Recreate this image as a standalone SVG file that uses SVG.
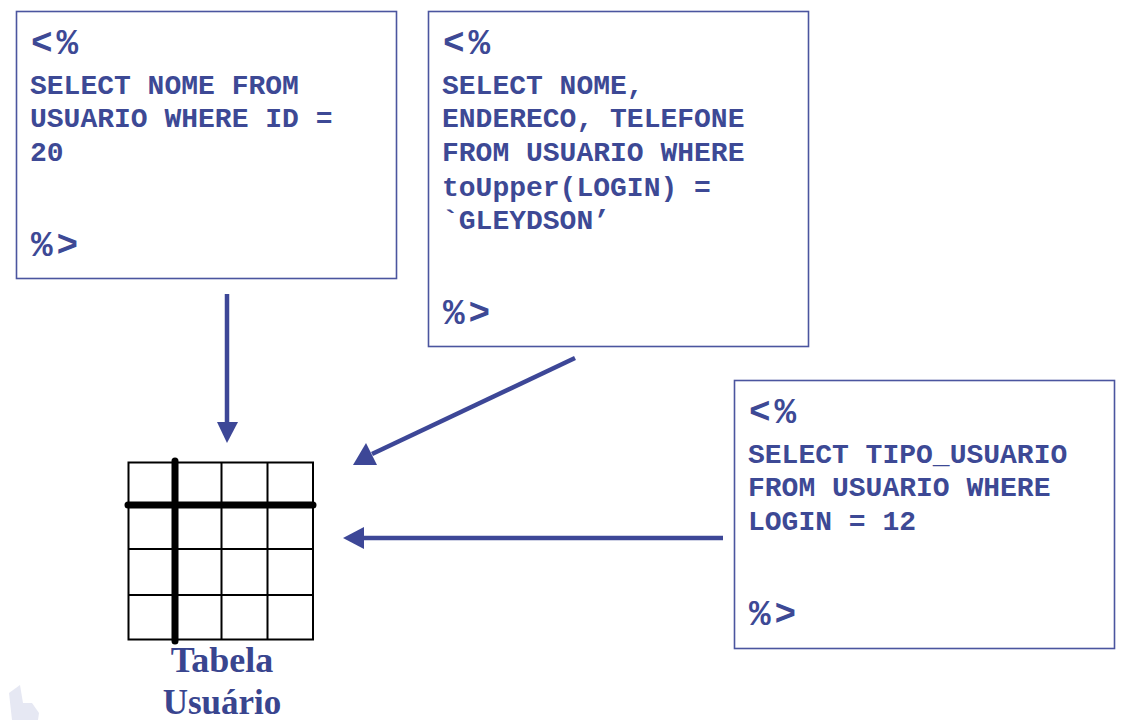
<svg xmlns="http://www.w3.org/2000/svg" width="1140" height="720" viewBox="0 0 1140 720">
<style>
.box{fill:#fff;stroke:#4b559f;stroke-width:1.6}
.code{font-family:"Liberation Mono","Courier New",monospace;font-weight:700;font-size:28px;fill:#3d4995}
.tag{font-family:"Liberation Mono","Courier New",monospace;font-weight:700;font-size:36px;fill:#3d4995;letter-spacing:4px}
.cap{font-family:"Liberation Serif","Times New Roman",serif;font-weight:700;font-size:36px;fill:#39458f;text-anchor:middle}
.conn{stroke:#3d4797;stroke-width:4.500;fill:none}
.head{fill:#3d4797}
.thin{stroke:#000;stroke-width:2;fill:none}
.thick{stroke:#000;stroke-width:7;stroke-linecap:round}
</style>
<rect width="1140" height="720" fill="#fff"/>
<g id="logo"><path d="M9 693L20 685L23 703L32 703L39 713L38 720L12 720Z" fill="#e6e8f3"/></g>
<g id="query1">
<rect class="box" x="16.500" y="11.500" width="380" height="267"/>
<text class="tag" x="31" y="54">&lt;%</text>
<text class="code" x="30" y="94">SELECT NOME FROM</text>
<text class="code" x="30" y="127">USUARIO WHERE ID =</text>
<text class="code" x="30" y="161">20</text>
<text class="tag" x="31" y="256">%&gt;</text>
</g>
<g id="query2">
<rect class="box" x="428.500" y="11.500" width="380" height="335"/>
<text class="tag" x="443" y="54">&lt;%</text>
<text class="code" x="442" y="94">SELECT NOME,</text>
<text class="code" x="442" y="127">ENDERECO, TELEFONE</text>
<text class="code" x="442" y="161">FROM USUARIO WHERE</text>
<text class="code" x="442" y="196">toUpper(LOGIN) =</text>
<text class="code" x="442" y="229">`GLEYDSON’</text>
<text class="tag" x="443" y="324">%&gt;</text>
</g>
<g id="query3">
<rect class="box" x="734.500" y="380.500" width="380" height="268"/>
<text class="tag" x="749" y="423">&lt;%</text>
<text class="code" x="748" y="463">SELECT TIPO_USUARIO</text>
<text class="code" x="748" y="496">FROM USUARIO WHERE</text>
<text class="code" x="748" y="530">LOGIN = 12</text>
<text class="tag" x="749" y="625">%&gt;</text>
</g>
<g id="table">
<rect class="thin" x="128.500" y="462.500" width="184.500" height="177"/>
<path class="thin" d="M221.500 462.500V639.500M267.500 462.500V639.500M128.500 549H313M128.500 595H313"/>
<path class="thick" d="M175 461V641M128 505H313"/>
<text class="cap" x="222" y="672">Tabela</text>
<text class="cap" x="222" y="714" style="font-size:35px">Usuário</text>
</g>
<g id="connectors">
<path class="conn" d="M227 294V424"/>
<path class="head" d="M217 422H238L227 443Z"/>
<path class="conn" d="M575 358L372 454"/>
<path class="head" d="M353 465L366 443L377 465Z"/>
<path class="conn" d="M723 538H362"/>
<path class="head" d="M343 538L364 527V549Z"/>
</g>
</svg>
